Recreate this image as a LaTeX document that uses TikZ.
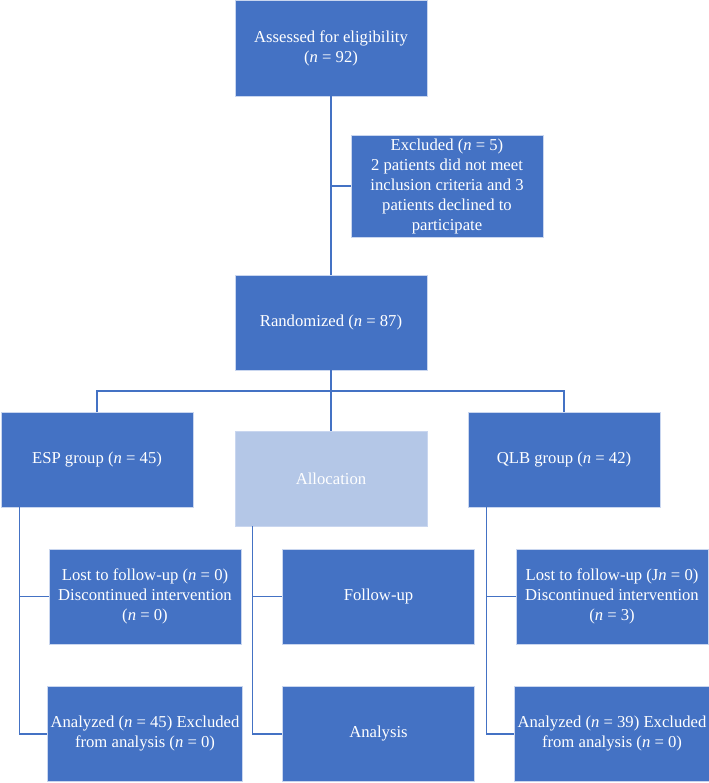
\documentclass[tikz,border=0pt]{standalone}
\usepackage{fontspec}
\setmainfont{Liberation Serif}
\usepackage{tikz}

\definecolor{boxblue}{HTML}{4472C4}
\definecolor{boxlight}{HTML}{B4C7E7}
\definecolor{boxedge}{HTML}{C9D6EF}
\definecolor{linkblue}{HTML}{4472C4}

\tikzset{
  stagebox/.style={draw=boxedge, line width=0.6pt, fill=boxblue, text=white,
    minimum width=144pt, minimum height=71.25pt, align=center, inner sep=2pt,
    font=\fontsize{12.5}{15}\selectfont},
  labelbox/.style={stagebox, fill=boxlight},
  link/.style={draw=linkblue, line width=1.1pt}
}

\begin{document}
\begin{tikzpicture}[x=0.75pt, y=-0.75pt]
  \useasboundingbox (0,0) rectangle (709,783);
  % ============= enrolment =============
  \node[stagebox, minimum height=72pt] (assess) at (331,48)
    {Assessed for eligibility\\(\textit{n} = 92)};
  \node[stagebox, minimum height=76.5pt] (excl) at (447,186)
    {Excluded (\textit{n} = 5)\\2 patients did not meet\\inclusion criteria and 3\\patients declined to\\participate};
  \node[stagebox] (rand) at (331,322.5) {Randomized (\textit{n} = 87)};
  % ============= allocation =============
  \node[stagebox] (esp)   at (97,459.5)  {ESP group (\textit{n} = 45)};
  \node[labelbox] (alloc) at (331,478.5) {Allocation};
  \node[stagebox] (qlb)   at (564,459.5) {QLB group (\textit{n} = 42)};
  % ============= follow-up =============
  \node[stagebox] (lostE)  at (145,596.5)
    {Lost to follow-up (\textit{n} = 0)\\Discontinued intervention\\(\textit{n} = 0)};
  \node[stagebox] (follow) at (378.5,596.5) {Follow-up};
  \node[stagebox] (lostQ)  at (612,596.5)
    {Lost to follow-up (J\textit{n} = 0)\\Discontinued intervention\\(\textit{n} = 3)};
  % ============= analysis =============
  \node[stagebox] (anaE)     at (145,734)
    {Analyzed (\textit{n} = 45) Excluded\\from analysis (\textit{n} = 0)};
  \node[stagebox] (analysis) at (378.5,734) {Analysis};
  \node[stagebox] (anaQ)     at (612,734)
    {Analyzed (\textit{n} = 39) Excluded\\from analysis (\textit{n} = 0)};
  % --- trunk ---
  \coordinate (bus) at (331,391);
  \draw[link] (assess.south) -- (rand.north);
  \draw[link] (assess.south |- excl.west) -- (excl.west);
  \draw[link] (rand.south) -- (alloc.north);
  \draw[link] (esp.north) |- (bus) -| (qlb.north);
  % --- column spines ---
  \draw[link] ([xshift=14pt]esp.south west) |- (lostE.west);
  \draw[link] ([xshift=14pt]esp.south west) |- (anaE.west);
  \draw[link] ([xshift=13.5pt]alloc.south west) |- (follow.west);
  \draw[link] ([xshift=13.5pt]alloc.south west) |- (analysis.west);
  \draw[link] ([xshift=14pt]qlb.south west) |- (lostQ.west);
  \draw[link] ([xshift=14pt]qlb.south west) |- (anaQ.west);
\end{tikzpicture}
\end{document}
